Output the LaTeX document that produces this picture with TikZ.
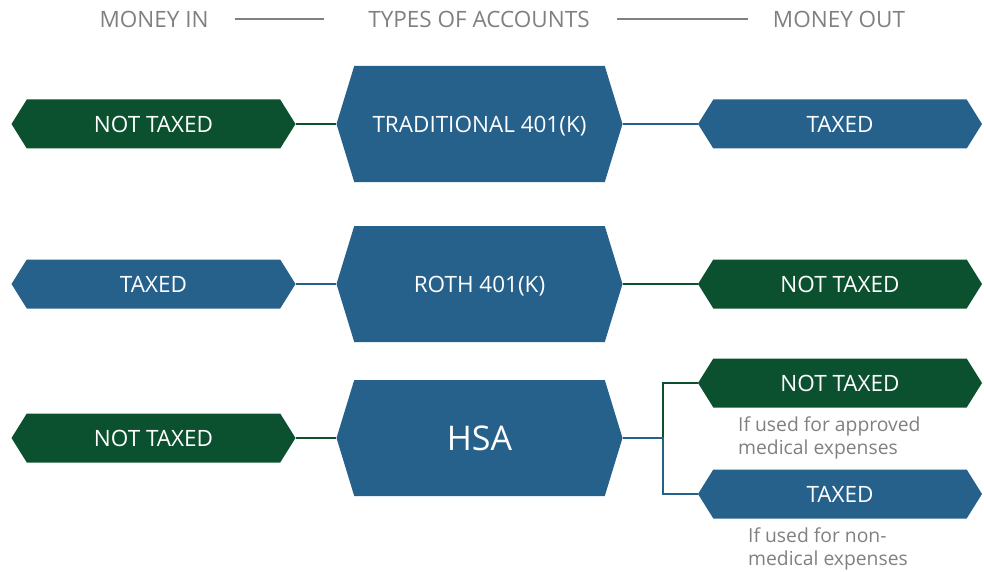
\documentclass[tikz,border=0pt]{standalone}
\usepackage{fontspec}
\setmainfont{Open Sans}
\usetikzlibrary{shapes.symbols}

\definecolor{acctblue}{RGB}{38,97,140}
\definecolor{acctgreen}{RGB}{11,81,48}
\definecolor{headgray}{RGB}{128,128,128}

\begin{document}
\begin{tikzpicture}[x=1pt, y=-1pt,
    side/.style = {signal, signal to=west and east, signal pointer angle=116,
      minimum width=284pt, minimum height=49pt, inner sep=0pt, draw=none,
      text depth=0pt, text=white, font=\fontsize{22.5}{24}\selectfont},
    acct/.style = {signal, signal to=west and east, signal pointer angle=146,
      minimum width=286pt, minimum height=116pt, inner sep=0pt, draw=none,
      text depth=0pt, fill=acctblue, text=white,
      font=\fontsize{22.5}{24}\selectfont},
    head/.style = {text=headgray, font=\fontsize{22.5}{24}\selectfont},
    note/.style = {text=headgray, align=left, anchor=north west, inner sep=0pt,
      font=\fontsize{19.3}{23}\selectfont},
    link/.style = {line width=2pt}]
  \useasboundingbox (0,0) rectangle (984,572);

  % column headings
  \node[head] (in) at (154,19) {MONEY IN};
  \node[head] (types) at (479,19) {TYPES OF ACCOUNTS};
  \node[head] (out) at (839,19) {MONEY OUT};
  \coordinate (h1) at (235,19);
  \coordinate (h2) at (324,19);
  \coordinate (h3) at (617,19);
  \coordinate (h4) at (748,19);
  \draw[headgray, line width=1.5pt] (h1) -- (h2);
  \draw[headgray, line width=1.5pt] (h3) -- (h4);

  % traditional 401(k)
  \node[acct] (trad) at (479.5,124) {TRADITIONAL 401(K)};
  \node[side, fill=acctgreen] (tradin) at (153.5,124) {NOT TAXED};
  \node[side, fill=acctblue] (tradout) at (840,124) {TAXED};
  \draw[link, acctgreen] (tradin.east) -- (trad.west);
  \draw[link, acctblue] (trad.east) -- (tradout.west);

  % roth 401(k)
  \node[acct] (roth) at (479.5,284) {ROTH 401(K)};
  \node[side, fill=acctblue] (rothin) at (153.5,284) {TAXED};
  \node[side, fill=acctgreen] (rothout) at (840,284) {NOT TAXED};
  \draw[link, acctblue] (rothin.east) -- (roth.west);
  \draw[link, acctgreen] (roth.east) -- (rothout.west);

  % hsa
  \node[acct, font=\fontsize{34}{36}\selectfont] (hsa) at (479.5,438) {HSA};
  \node[side, fill=acctgreen] (hsain) at (153.5,438) {NOT TAXED};
  \node[side, fill=acctgreen] (hsaout1) at (840,383) {NOT TAXED};
  \node[side, fill=acctblue] (hsaout2) at (840,494) {TAXED};
  \coordinate (fork) at (663,438);
  \draw[link, acctgreen] (hsain.east) -- (hsa.west);
  \draw[link, acctgreen] (fork) |- (hsaout1.west);
  \draw[link, acctblue] (hsa.east) -- (fork) |- (hsaout2.west);
  \node[note] (note1) at (738,417) {If used for approved\\medical expenses};
  \node[note] (note2) at (748,528) {If used for non-\\medical expenses};
\end{tikzpicture}
\end{document}
